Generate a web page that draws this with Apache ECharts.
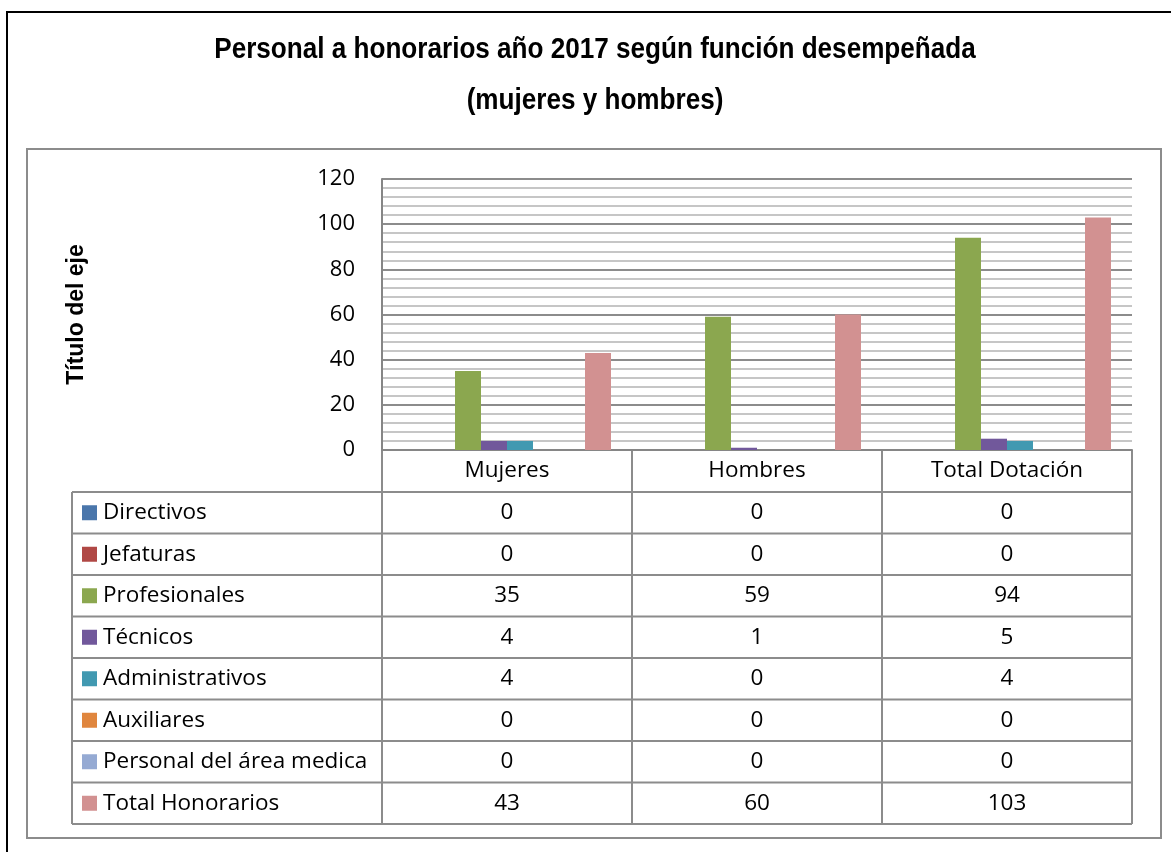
<!DOCTYPE html>
<html>
<head>
<meta charset="utf-8">
<script src="https://cdn.jsdelivr.net/npm/echarts@6/dist/echarts.min.js"></script>
<style>
  html, body { margin: 0; padding: 0; background: #fff; }
  #chart { width: 1171px; height: 852px; }
</style>
</head>
<body>
<div id="chart"></div>
<script>
const categories = ['Mujeres', 'Hombres', 'Total Dotación'];
const seriesNames = ['Directivos', 'Jefaturas', 'Profesionales', 'Técnicos', 'Administrativos', 'Auxiliares', 'Personal del área medica', 'Total Honorarios'];
const directivos = [0, 0, 0];
const jefaturas = [0, 0, 0];
const profesionales = [35, 59, 94];
const tecnicos = [4, 1, 5];
const administrativos = [4, 0, 4];
const auxiliares = [0, 0, 0];
const areaMedica = [0, 0, 0];
const totalHonorarios = [43, 60, 103];
const yTicks = [0, 20, 40, 60, 80, 100, 120];

const seriesValues = [directivos, jefaturas, profesionales, tecnicos, administrativos, auxiliares, areaMedica, totalHonorarios];
const colors = ['#4a76ab', '#b04845', '#8ba74f', '#71589b', '#4199b1', '#e0863e', '#95aad3', '#d29191'];

const FONT = '"Open Sans", "Noto Sans", sans-serif';
const BOLD_FONT = '"Liberation Sans", Arial, sans-serif';
const FS = 22.5;
const gridLeft = 382, gridRight = 39, gridTop = 179, gridBottom = 402;
const headerH = 42, rowH = 41.5, legendLeft = 72;

const chart = echarts.init(document.getElementById('chart'));

const option = {
  animation: false,
  grid: { left: gridLeft, right: gridRight, top: gridTop, bottom: gridBottom },
  xAxis: {
    type: 'category',
    data: categories,
    axisLine: { lineStyle: { color: '#868686', width: 2 } },
    axisTick: { show: false },
    axisLabel: { margin: 0, lineHeight: headerH, fontSize: FS, color: '#000', fontFamily: FONT }
  },
  yAxis: {
    type: 'value',
    min: yTicks[0],
    max: yTicks[yTicks.length - 1],
    interval: 20,
    name: 'Título del eje',
    nameLocation: 'middle',
    nameGap: 294,
    nameTextStyle: { fontSize: 23, fontWeight: 'bold', color: '#000', fontFamily: BOLD_FONT },
    axisLine: { show: true, lineStyle: { color: '#868686', width: 2 } },
    axisTick: { show: false },
    axisLabel: { margin: 27, fontSize: 22, color: '#000', fontFamily: FONT },
    splitLine: { lineStyle: { color: '#8c8c8c', width: 2 } },
    minorTick: { show: false, splitNumber: 5 },
    minorSplitLine: { show: true, lineStyle: { color: '#c6c6c6', width: 2 } }
  },
  series: seriesNames.map((name, i) => ({
    name: name,
    type: 'bar',
    data: seriesValues[i],
    barWidth: 26,
    barGap: '0%',
    itemStyle: { color: colors[i] }
  }))
};
chart.setOption(option);

// data table + frames
const axisY = chart.convertToPixel({ yAxisIndex: 0 }, 0);
const c0 = chart.convertToPixel({ xAxisIndex: 0 }, 0);
const c1 = chart.convertToPixel({ xAxisIndex: 0 }, 1);
const band = c1 - c0;
const colEdges = categories.map((c, i) => chart.convertToPixel({ xAxisIndex: 0 }, i) - band / 2);
colEdges.push(colEdges[colEdges.length - 1] + band);
const tableTop = axisY;
const rowsTop = tableTop + headerH;
const tableBottom = rowsTop + rowH * seriesNames.length;
const lineStyle = { stroke: '#8c8c8c', lineWidth: 2 };

const g = [];
// outer frames
g.push({ type: 'rect', shape: { x: 7, y: 12, width: 1200, height: 900 }, style: { fill: 'none', stroke: '#000', lineWidth: 2 }, silent: true });
g.push({ type: 'rect', shape: { x: 27, y: 149, width: 1134, height: 689 }, style: { fill: 'none', stroke: '#8c8c8c', lineWidth: 2 }, silent: true });
// title (condensed bold)
const titleStyle = { fontSize: 29, fontWeight: 'bold', fontFamily: BOLD_FONT, fill: '#000', align: 'center', verticalAlign: 'middle' };
g.push({ type: 'text', x: 595, y: 50, scaleX: 0.9, style: Object.assign({ text: 'Personal a honorarios año 2017 según función desempeñada' }, titleStyle) });
g.push({ type: 'text', x: 595, y: 101, scaleX: 0.9, style: Object.assign({ text: '(mujeres y hombres)' }, titleStyle) });
// vertical table lines
colEdges.forEach(x => {
  g.push({ type: 'line', shape: { x1: x, y1: tableTop, x2: x, y2: tableBottom }, style: lineStyle, silent: true });
});
g.push({ type: 'line', shape: { x1: legendLeft, y1: rowsTop, x2: legendLeft, y2: tableBottom }, style: lineStyle, silent: true });
// horizontal table lines
for (let r = 0; r <= seriesNames.length; r++) {
  const y = rowsTop + r * rowH;
  g.push({ type: 'line', shape: { x1: legendLeft, y1: y, x2: colEdges[colEdges.length - 1], y2: y }, style: lineStyle, silent: true });
}
// rows
seriesNames.forEach((name, r) => {
  const yc = rowsTop + r * rowH + rowH / 2;
  g.push({ type: 'rect', shape: { x: legendLeft + 10, y: yc - 7.5, width: 15, height: 15 }, style: { fill: colors[r] }, silent: true });
  g.push({ type: 'text', x: legendLeft + 31, y: yc, style: { text: name, fontSize: FS, fontFamily: FONT, fill: '#000', align: 'left', verticalAlign: 'middle' } });
  seriesValues[r].forEach((v, i) => {
    g.push({ type: 'text', x: chart.convertToPixel({ xAxisIndex: 0 }, i), y: yc, style: { text: String(v), fontSize: FS, fontFamily: FONT, fill: '#000', align: 'center', verticalAlign: 'middle' } });
  });
});
chart.setOption({ graphic: g });
</script>
</body>
</html>
